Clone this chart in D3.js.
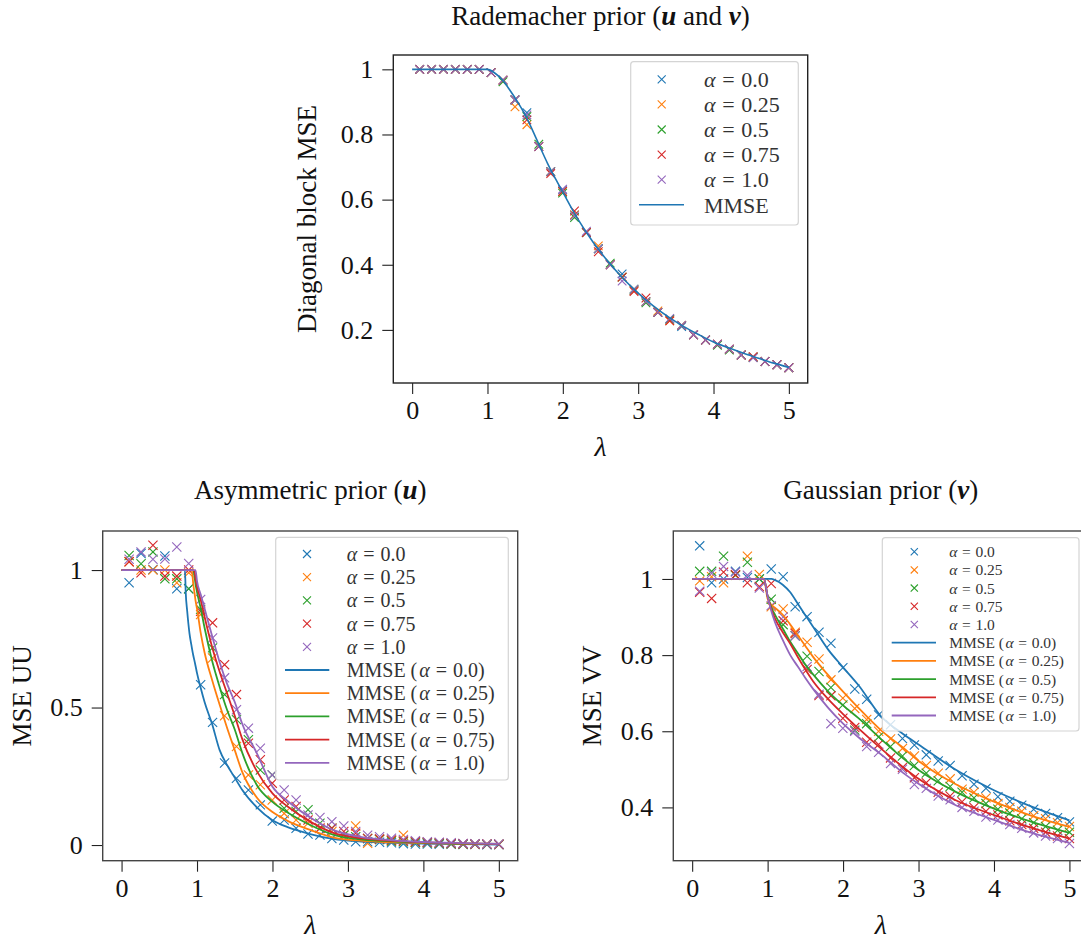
<!DOCTYPE html>
<html>
<head>
<meta charset="utf-8">
<script src="https://cdn.jsdelivr.net/npm/d3@7"></script>
<style>
  body { margin: 0; background: #fff; }
  svg { display: block; font-family: "Liberation Serif", "Times New Roman", serif; }
</style>
</head>
<body>
<svg id="chart" width="1081" height="941"></svg>
<script>
// ---------------- dados ----------------
const lam = [0.1, 0.258, 0.416, 0.574, 0.732, 0.89, 1.048, 1.206, 1.365, 1.523, 1.681, 1.839, 1.997, 2.155, 2.313, 2.471,
             2.629, 2.787, 2.945, 3.103, 3.261, 3.419, 3.577, 3.735, 3.894, 4.052, 4.21, 4.368, 4.526, 4.684, 4.842, 5.0];
const lamTicks = [0, 1, 2, 3, 4, 5];
const alphaLabels = ["0.0", "0.25", "0.5", "0.75", "1.0"];
const colors = ["#1f77b4", "#ff7f0e", "#2ca02c", "#d62728", "#9467bd"];

// Rademacher (u e v)
const radeA00 = [1, 1, 1, 1, 1, 1, 0.99, 0.967, 0.906, 0.867, 0.763, 0.686, 0.63, 0.553, 0.499, 0.449, 0.40, 0.372, 0.321, 0.287, 0.254, 0.233, 0.21, 0.185, 0.169, 0.156, 0.141, 0.123, 0.116, 0.103, 0.093, 0.084];
const radeA025 = [1, 1, 1, 1, 1, 1, 0.99, 0.967, 0.885, 0.83, 0.763, 0.686, 0.625, 0.553, 0.499, 0.458, 0.40, 0.362, 0.321, 0.287, 0.258, 0.228, 0.214, 0.185, 0.169, 0.156, 0.141, 0.123, 0.116, 0.103, 0.093, 0.084];
const radeA05 = [1, 1, 1, 1, 1, 1, 0.99, 0.962, 0.906, 0.855, 0.77, 0.686, 0.62, 0.545, 0.499, 0.449, 0.405, 0.362, 0.325, 0.283, 0.254, 0.233, 0.214, 0.185, 0.169, 0.153, 0.138, 0.123, 0.116, 0.103, 0.093, 0.084];
const radeA075 = [1, 1, 1, 1, 1, 1, 0.99, 0.967, 0.906, 0.845, 0.763, 0.68, 0.625, 0.565, 0.499, 0.44, 0.40, 0.362, 0.318, 0.298, 0.254, 0.228, 0.214, 0.185, 0.169, 0.156, 0.141, 0.123, 0.118, 0.103, 0.093, 0.084];
const radeA10 = [1, 1, 1, 1, 1, 1, 0.99, 0.967, 0.906, 0.86, 0.763, 0.686, 0.632, 0.55, 0.503, 0.449, 0.40, 0.35, 0.325, 0.287, 0.254, 0.235, 0.214, 0.185, 0.169, 0.156, 0.141, 0.123, 0.114, 0.103, 0.093, 0.084];
const radeLineLam = [0, 1.0, 1.1, 1.2, 1.3, 1.4, 1.5, 1.6, 1.7, 1.8, 1.9, 2.0, 2.2, 2.4, 2.6, 2.8, 3.0, 3.2, 3.4, 3.6, 3.8, 4.0, 4.2, 4.4, 4.6, 4.8, 5.0];
const radeMmse = [1, 1, 0.988, 0.967, 0.935, 0.9, 0.86, 0.812, 0.76, 0.71, 0.665, 0.623, 0.54, 0.47, 0.41, 0.358, 0.313, 0.274, 0.24, 0.211, 0.186, 0.163, 0.145, 0.128, 0.113, 0.098, 0.085];

// Assimétrico (u)
const asymA00 = [0.954, 1.06, 1.002, 1.051, 0.932, 0.932, 0.583, 0.446, 0.298, 0.243, 0.2, 0.146, 0.087, 0.091, 0.061, 0.04, 0.036, 0.024, 0.018, 0.012, 0.012, 0.01, 0.008, 0.005, 0.004, 0.004, 0.003, 0.003, 0.002, 0.002, 0.001, 0.001];
const asymA025 = [1.03, 1.0, 1.0, 1.0, 0.954, 0.99, 0.838, 0.68, 0.47, 0.358, 0.255, 0.219, 0.164, 0.115, 0.091, 0.079, 0.061, 0.049, 0.036, 0.069, 0.006, 0.02, 0.015, 0.036, 0.01, 0.008, 0.006, 0.005, 0.004, 0.003, 0.003, 0.002];
const asymA05 = [1.053, 1.023, 1.066, 0.968, 0.968, 0.932, 0.857, 0.717, 0.547, 0.456, 0.383, 0.273, 0.255, 0.134, 0.122, 0.128, 0.079, 0.061, 0.036, 0.03, 0.024, 0.02, 0.015, 0.012, 0.01, 0.008, 0.006, 0.005, 0.004, 0.004, 0.003, 0.003];
const asymA075 = [1.03, 0.99, 1.09, 0.978, 0.978, 1.0, 0.85, 0.808, 0.656, 0.547, 0.37, 0.31, 0.225, 0.164, 0.14, 0.091, 0.061, 0.061, 0.049, 0.043, 0.024, 0.022, 0.018, 0.015, 0.012, 0.01, 0.008, 0.006, 0.005, 0.004, 0.004, 0.003];
const asymA10 = [1.039, 1.066, 1.039, 1.04, 1.084, 1.024, 0.893, 0.753, 0.608, 0.492, 0.425, 0.352, 0.255, 0.2, 0.164, 0.109, 0.1, 0.085, 0.069, 0.049, 0.036, 0.03, 0.025, 0.02, 0.016, 0.012, 0.01, 0.008, 0.006, 0.005, 0.004, 0.004];
const asymLineLam = [0, 0.84, 0.85, 0.87, 0.9, 0.93, 0.95, 0.97, 0.98, 1.0, 1.05, 1.1, 1.2, 1.3, 1.4, 1.5, 1.6, 1.8, 2.0, 2.2, 2.5, 2.8, 3.2, 3.6, 4.0, 4.5, 5.0];
const asymMmse00 = [1, 1, 0.92, 0.85, 0.77, 0.72, 0.69, 0.665, 0.652, 0.625, 0.57, 0.52, 0.44, 0.345, 0.29, 0.245, 0.2, 0.135, 0.09, 0.065, 0.04, 0.022, 0.012, 0.008, 0.005, 0.003, 0.002];
const asymMmse025 = [1, 1, 1, 1, 1, 1, 0.95, 0.91, 0.89, 0.86, 0.77, 0.70, 0.60, 0.51, 0.425, 0.345, 0.265, 0.17, 0.12, 0.088, 0.055, 0.028, 0.015, 0.01, 0.007, 0.004, 0.003];
const asymMmse05 = [1, 1, 1, 1, 1, 1, 1, 0.97, 0.95, 0.92, 0.86, 0.79, 0.67, 0.575, 0.49, 0.42, 0.335, 0.215, 0.157, 0.118, 0.073, 0.038, 0.02, 0.013, 0.009, 0.005, 0.004];
const asymMmse075 = [1, 1, 1, 1, 1, 1, 1, 0.99, 0.97, 0.94, 0.89, 0.83, 0.72, 0.63, 0.55, 0.47, 0.385, 0.265, 0.188, 0.14, 0.085, 0.045, 0.024, 0.015, 0.01, 0.006, 0.004];
const asymMmse10 = [1, 1, 1, 1, 1, 1, 1, 1, 1, 0.96, 0.91, 0.86, 0.76, 0.665, 0.585, 0.52, 0.44, 0.33, 0.212, 0.16, 0.1, 0.055, 0.028, 0.017, 0.011, 0.007, 0.004];

// Gaussiano (v)
const gaussA00 = [1.087, 0.99, 1.0, 1.02, 1.004, 1.0, 1.026, 1.006, 0.927, 0.901, 0.86, 0.831, 0.767, 0.711, 0.684, 0.643, 0.617, 0.581, 0.564, 0.538, 0.522, 0.51, 0.483, 0.461, 0.45, 0.428, 0.416, 0.406, 0.395, 0.384, 0.373, 0.362];
const gaussA025 = [0.995, 1.006, 0.99, 1.01, 1.06, 1.012, 0.927, 0.921, 0.86, 0.834, 0.79, 0.735, 0.687, 0.66, 0.631, 0.60, 0.58, 0.555, 0.535, 0.51, 0.49, 0.475, 0.448, 0.44, 0.425, 0.41, 0.40, 0.39, 0.378, 0.37, 0.36, 0.35];
const gaussA05 = [1.02, 1.02, 1.06, 1.01, 1.044, 1.0, 0.947, 0.88, 0.851, 0.797, 0.757, 0.715, 0.669, 0.603, 0.62, 0.585, 0.56, 0.535, 0.51, 0.49, 0.47, 0.455, 0.44, 0.425, 0.41, 0.395, 0.385, 0.37, 0.36, 0.35, 0.34, 0.335];
const gaussA075 = [0.965, 0.949, 1.018, 1.011, 0.99, 0.98, 0.988, 0.89, 0.857, 0.762, 0.694, 0.693, 0.634, 0.61, 0.571, 0.565, 0.53, 0.505, 0.478, 0.465, 0.44, 0.43, 0.415, 0.40, 0.39, 0.38, 0.365, 0.355, 0.345, 0.335, 0.325, 0.318];
const gaussA10 = [0.968, 1.015, 1.033, 1.018, 1.01, 0.976, 0.93, 0.90, 0.85, 0.77, 0.697, 0.62, 0.608, 0.60, 0.56, 0.545, 0.515, 0.50, 0.46, 0.45, 0.43, 0.42, 0.40, 0.39, 0.375, 0.367, 0.355, 0.345, 0.333, 0.325, 0.318, 0.305];
const gaussLineLam = [0, 0.95, 1.0, 1.05, 1.1, 1.2, 1.3, 1.4, 1.5, 1.6, 1.8, 2.0, 2.2, 2.5, 2.8, 3.0, 3.5, 4.0, 4.5, 5.0];
const gaussMmse00 = [1, 1, 1, 1.0, 0.997, 0.985, 0.965, 0.935, 0.905, 0.875, 0.815, 0.768, 0.722, 0.64, 0.592, 0.565, 0.498, 0.445, 0.402, 0.366];
const gaussMmse025 = [1, 1, 0.948, 0.932, 0.924, 0.906, 0.88, 0.852, 0.824, 0.796, 0.748, 0.704, 0.662, 0.603, 0.556, 0.522, 0.46, 0.415, 0.378, 0.349];
const gaussMmse05 = [1, 1, 0.955, 0.925, 0.905, 0.87, 0.835, 0.805, 0.775, 0.75, 0.705, 0.668, 0.635, 0.58, 0.528, 0.498, 0.44, 0.397, 0.362, 0.333];
const gaussMmse075 = [1, 1, 0.955, 0.92, 0.895, 0.86, 0.83, 0.795, 0.762, 0.732, 0.685, 0.645, 0.608, 0.555, 0.505, 0.475, 0.418, 0.38, 0.346, 0.318];
const gaussMmse10 = [1, 1, 0.955, 0.915, 0.885, 0.84, 0.80, 0.77, 0.74, 0.712, 0.662, 0.62, 0.585, 0.54, 0.49, 0.462, 0.405, 0.367, 0.333, 0.307];

// ---------------- desenho ----------------
const svg = d3.select("#chart");

function drawPanel(cfg) {
    const x = d3.scaleLinear().domain([-0.25, 5.25]).range([cfg.x0, cfg.x1]);
    const y = d3.scaleLinear().domain(cfg.yDomain).range([cfg.y1, cfg.y0]);
    const g = svg.append("g");

    const clipId = "clip-" + cfg.id;
    g.append("clipPath").attr("id", clipId)
        .append("rect")
        .attr("x", cfg.x0).attr("y", cfg.y0)
        .attr("width", cfg.x1 - cfg.x0).attr("height", cfg.y1 - cfg.y0);

    const plot = g.append("g").attr("clip-path", `url(#${clipId})`);

    // marcadores "x"
    const m = cfg.markerSize;
    cfg.markers.forEach((vals, k) => {
        plot.append("g")
            .selectAll("path")
            .data(vals)
            .join("path")
            .attr("transform", (d, i) => `translate(${x(lam[i])},${y(d)})`)
            .attr("d", `M${-m},${-m}L${m},${m}M${-m},${m}L${m},${-m}`)
            .attr("stroke", colors[k])
            .attr("stroke-width", 1.1)
            .attr("fill", "none");
    });

    // curvas MMSE
    cfg.lines.forEach((vals, k) => {
        const line = d3.line()
            .x((d, i) => x(cfg.lineLam[i]))
            .y(d => y(d))
            .curve(d3.curveMonotoneX);
        plot.append("path")
            .datum(vals)
            .attr("d", line)
            .attr("fill", "none")
            .attr("stroke", colors[k])
            .attr("stroke-width", cfg.lineWidth);
    });

    // eixos
    const xAxis = g.append("g")
        .attr("transform", `translate(0,${cfg.y1})`)
        .call(d3.axisBottom(x).tickValues(lamTicks).tickSize(11).tickPadding(7).tickFormat(d3.format("d")));
    const yAxis = g.append("g")
        .attr("transform", `translate(${cfg.x0},0)`)
        .call(d3.axisLeft(y).tickValues(cfg.yTicks).tickSize(11).tickPadding(9).tickFormat(d => String(d)));
    [xAxis, yAxis].forEach(a => {
        a.select(".domain").remove();
        a.selectAll(".tick line").attr("stroke", "#222").attr("stroke-width", 1.1);
        a.selectAll(".tick text")
            .attr("font-size", 26)
            .attr("font-family", "Liberation Serif, serif")
            .attr("fill", "#111");
    });

    // moldura
    g.append("rect")
        .attr("x", cfg.x0).attr("y", cfg.y0)
        .attr("width", cfg.x1 - cfg.x0).attr("height", cfg.y1 - cfg.y0)
        .attr("fill", "none")
        .attr("stroke", cfg.frameColor)
        .attr("stroke-width", 1.4);

    // título
    const t = g.append("text")
        .attr("x", (cfg.x0 + Math.min(cfg.x1, 1088)) / 2)
        .attr("y", cfg.titleY)
        .attr("text-anchor", "middle")
        .attr("font-size", 27)
        .attr("fill", "#111");
    cfg.title.forEach(part => {
        const s = t.append("tspan").text(part.text);
        if (part.bold) s.attr("font-weight", "bold").attr("font-style", "italic");
    });

    // rótulos dos eixos
    g.append("text")
        .attr("x", (cfg.x0 + cfg.x1) / 2)
        .attr("y", cfg.y1 + 73)
        .attr("text-anchor", "middle")
        .attr("font-size", 28)
        .attr("font-style", "italic")
        .attr("fill", "#111")
        .text("λ");
    const ly = (cfg.y0 + cfg.y1) / 2;
    const lx = cfg.x0 - cfg.yLabelOffset;
    g.append("text")
        .attr("transform", `translate(${lx},${ly}) rotate(-90)`)
        .attr("text-anchor", "middle")
        .attr("font-size", 27)
        .attr("fill", "#111")
        .text(cfg.yLabel);

    // legenda
    const L = cfg.legend;
    const lg = g.append("g");
    lg.append("rect")
        .attr("x", L.x0).attr("y", L.y0)
        .attr("width", L.x1 - L.x0).attr("height", L.y1 - L.y0)
        .attr("rx", 3)
        .attr("fill", "#fff").attr("fill-opacity", 0.8)
        .attr("stroke", "#d4d4d4").attr("stroke-width", 1.2);

    const entries = [];
    alphaLabels.forEach((a, k) => entries.push({ kind: "marker", k: k, pre: "", a: a }));
    if (cfg.lines.length === 1) {
        entries.push({ kind: "line", k: 0, pre: "MMSE", a: null });
    } else {
        alphaLabels.forEach((a, k) => entries.push({ kind: "line", k: k, pre: "MMSE (", a: a }));
    }

    entries.forEach((e, i) => {
        const cy = L.firstRow + i * L.rowH;
        if (e.kind === "marker") {
            const lm = L.markerSize;
            lg.append("path")
                .attr("transform", `translate(${L.markerX},${cy})`)
                .attr("d", `M${-lm},${-lm}L${lm},${lm}M${-lm},${lm}L${lm},${-lm}`)
                .attr("stroke", colors[e.k]).attr("stroke-width", 1.1).attr("fill", "none");
        } else {
            lg.append("line")
                .attr("x1", L.lineX0).attr("x2", L.lineX1)
                .attr("y1", cy).attr("y2", cy)
                .attr("stroke", colors[e.k]).attr("stroke-width", cfg.lineWidth);
        }
        const tx = lg.append("text")
            .attr("x", L.textX)
            .attr("y", cy + L.fontSize * 0.35)
            .attr("font-size", L.fontSize)
            .attr("fill", "#333");
        if (e.pre) tx.append("tspan").text(e.pre);
        if (e.a !== null) {
            // espaçamento à moda do modo matemático
            tx.append("tspan").attr("dx", e.pre ? "0.1em" : 0).attr("font-style", "italic").text("α");
            tx.append("tspan").attr("dx", "0.3em").text("=");
            tx.append("tspan").attr("dx", "0.3em").text(e.a + (e.pre ? ")" : ""));
        }
    });
}

// Rademacher
drawPanel({
    id: "rade",
    x0: 393.3, x1: 807.7, y0: 55, y1: 383,
    yDomain: [0.037, 1.044],
    yTicks: [0.2, 0.4, 0.6, 0.8, 1],
    markers: [radeA00, radeA025, radeA05, radeA075, radeA10],
    lineLam: radeLineLam,
    lines: [radeMmse],
    lineWidth: 1.6,
    markerSize: 4.3,
    frameColor: "#222",
    titleY: 25,
    title: [{ text: "Rademacher prior (" }, { text: "u", bold: true }, { text: " and " }, { text: "v", bold: true }, { text: ")" }],
    yLabel: "Diagonal block MSE",
    yLabelOffset: 77,
    legend: { x0: 630.7, x1: 798.3, y0: 61.7, y1: 225, firstRow: 79.3, rowH: 25.1,
              markerX: 661.7, lineX0: 639, lineX1: 684, textX: 704, fontSize: 22, markerSize: 4 }
});

// Assimétrico
drawPanel({
    id: "asym",
    x0: 102.7, x1: 517.7, y0: 531, y1: 860.7,
    yDomain: [-0.057, 1.142],
    yTicks: [0, 0.5, 1],
    markers: [asymA00, asymA025, asymA05, asymA075, asymA10],
    lineLam: asymLineLam,
    lines: [asymMmse00, asymMmse025, asymMmse05, asymMmse075, asymMmse10],
    lineWidth: 1.8,
    markerSize: 4.6,
    frameColor: "#444",
    titleY: 499,
    title: [{ text: "Asymmetric prior (" }, { text: "u", bold: true }, { text: ")" }],
    yLabel: "MSE UU",
    yLabelOffset: 72,
    legend: { x0: 275.7, x1: 508.3, y0: 537.3, y1: 780, firstRow: 554, rowH: 23.2,
              markerX: 307, lineX0: 285, lineX1: 329.3, textX: 346.7, fontSize: 20, markerSize: 4 }
});

// Gaussiano
drawPanel({
    id: "gauss",
    x0: 673.3, x1: 1088.3, y0: 531, y1: 860.7,
    yDomain: [0.26, 1.126],
    yTicks: [0.4, 0.6, 0.8, 1],
    markers: [gaussA00, gaussA025, gaussA05, gaussA075, gaussA10],
    lineLam: gaussLineLam,
    lines: [gaussMmse00, gaussMmse025, gaussMmse05, gaussMmse075, gaussMmse10],
    lineWidth: 1.8,
    markerSize: 4.6,
    frameColor: "#444",
    titleY: 499,
    title: [{ text: "Gaussian prior (" }, { text: "v", bold: true }, { text: ")" }],
    yLabel: "MSE VV",
    yLabelOffset: 72,
    legend: { x0: 882.3, x1: 1079, y0: 537.7, y1: 731, firstRow: 551.7, rowH: 18.2,
              markerX: 914.3, lineX0: 891.7, lineX1: 936, textX: 949.3, fontSize: 15.5, markerSize: 3.6 }
});
</script>
</body>
</html>
